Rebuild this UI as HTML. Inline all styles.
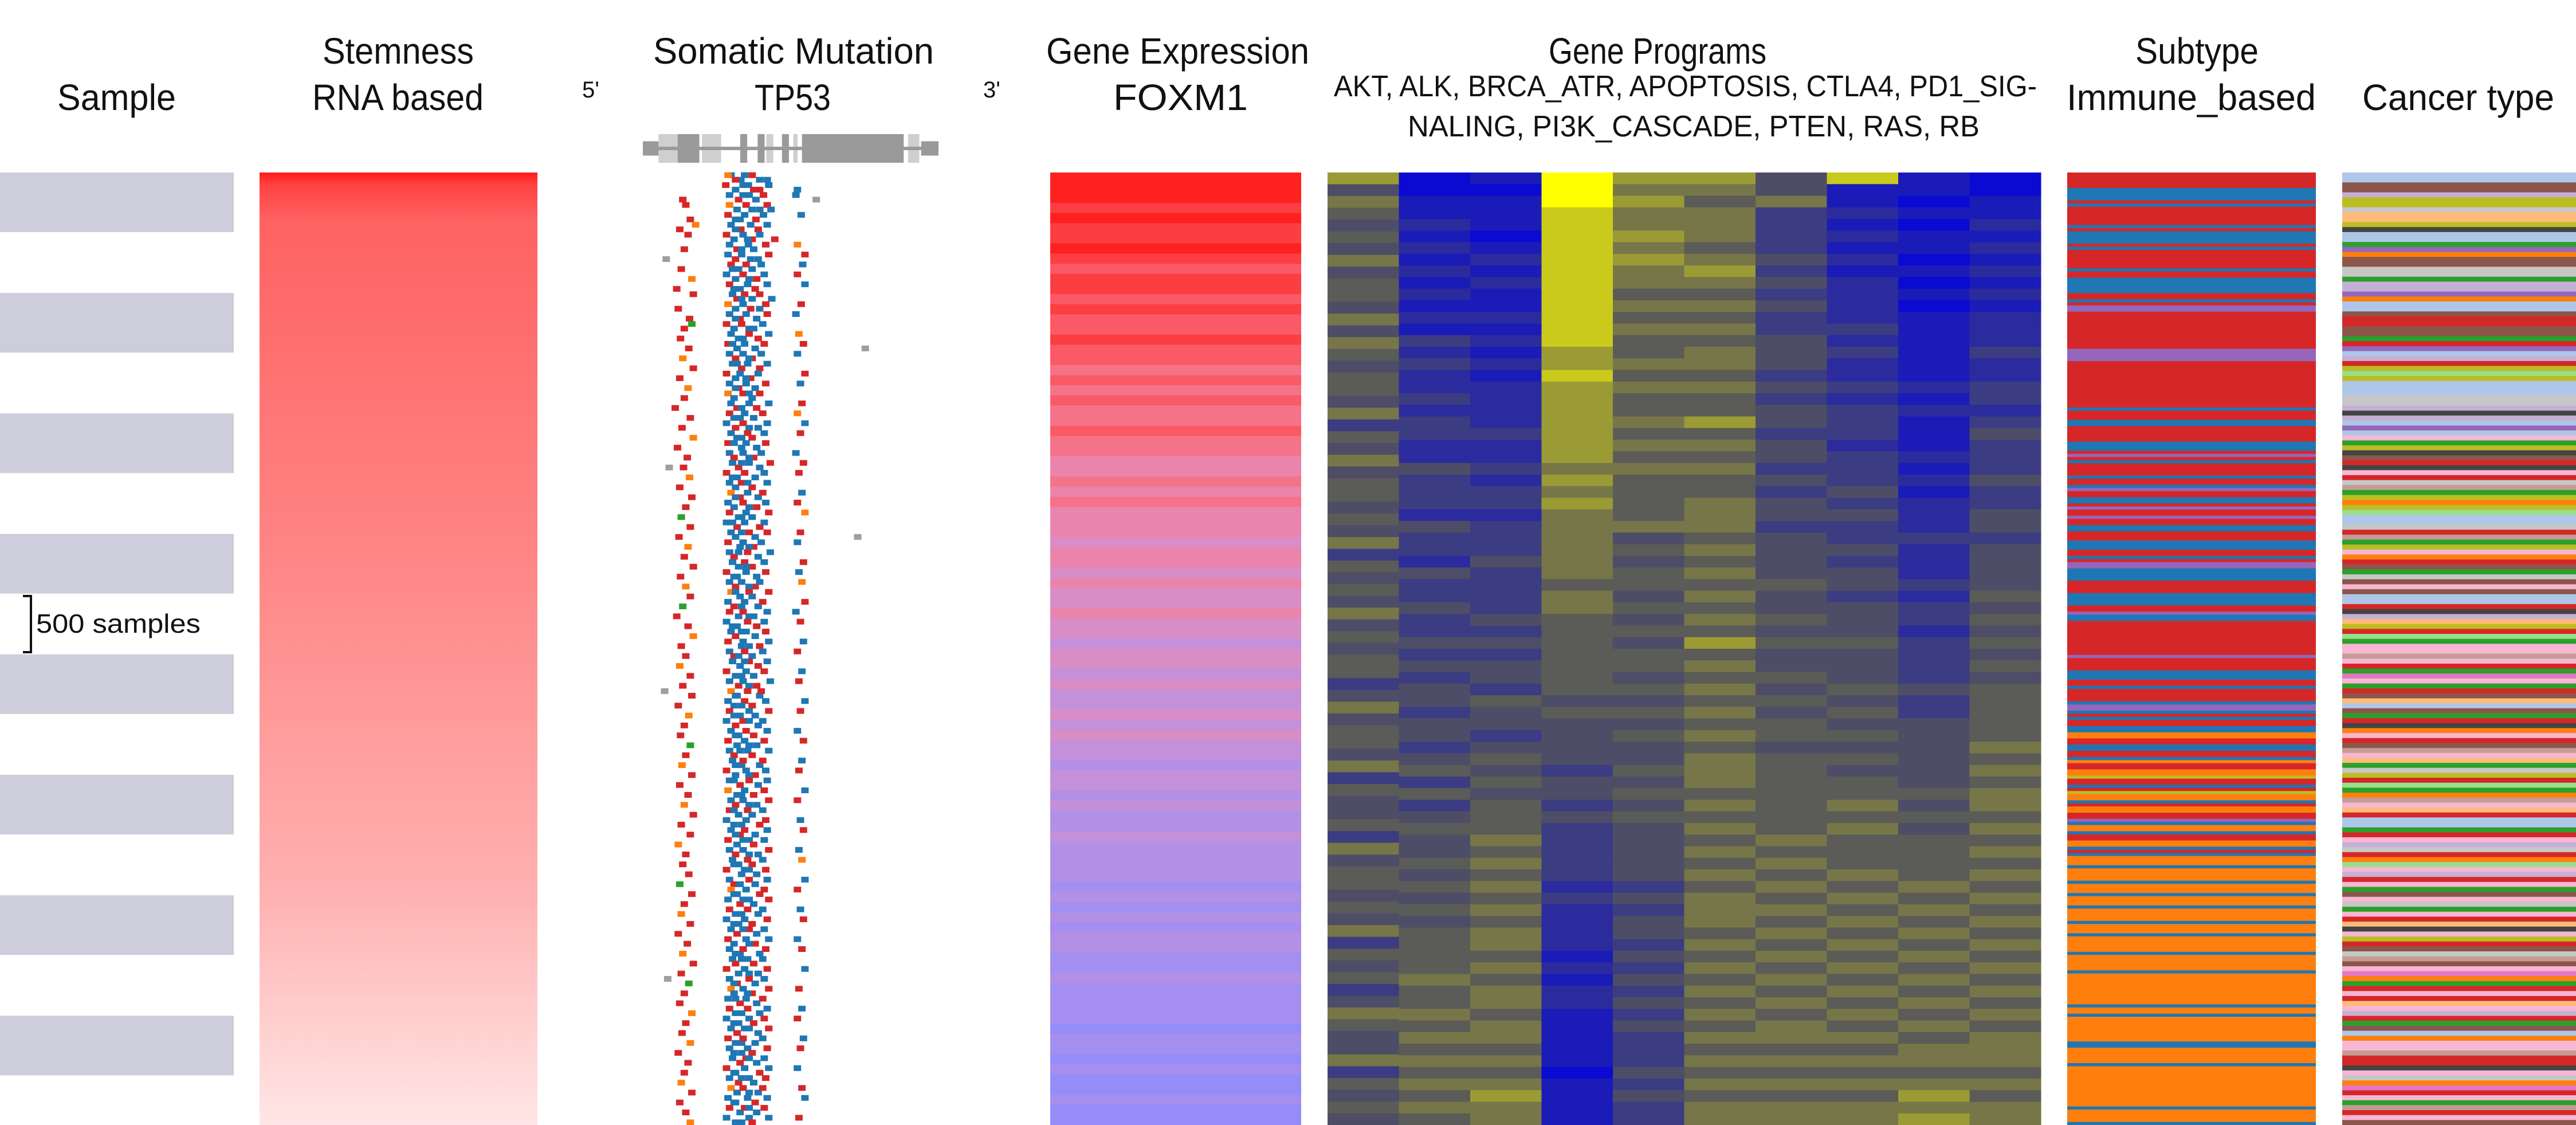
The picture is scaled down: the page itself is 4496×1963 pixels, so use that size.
<!DOCTYPE html>
<html><head><meta charset="utf-8"><style>
html,body{margin:0;padding:0;background:#fff;}
svg{display:block;}
text{font-family:"Liberation Sans",sans-serif;fill:#111;}
</style></head><body>
<svg id="chart" width="4496" height="1963" viewBox="0 0 4496 1963" xmlns="http://www.w3.org/2000/svg">
<defs>
<linearGradient id="stemGrad" x1="0" y1="0" x2="0" y2="1">
<stop offset="0" stop-color="#ff1a1a"/><stop offset="0.012" stop-color="#ff4040"/><stop offset="0.05" stop-color="#ff6262"/><stop offset="0.4" stop-color="#ff8585"/><stop offset="0.75" stop-color="#ffb0b0"/><stop offset="1" stop-color="#ffe6e6"/>
</linearGradient>
</defs>
<g>
<text x="100" y="192" font-size="64" textLength="207" lengthAdjust="spacingAndGlyphs">Sample</text>
<text x="563" y="111" font-size="64" textLength="264" lengthAdjust="spacingAndGlyphs">Stemness</text>
<text x="545" y="192" font-size="64" textLength="299" lengthAdjust="spacingAndGlyphs">RNA based</text>
<text x="1016" y="170" font-size="40">5'</text>
<text x="1140" y="111" font-size="64" textLength="490" lengthAdjust="spacingAndGlyphs">Somatic Mutation</text>
<text x="1317" y="192" font-size="64" textLength="133" lengthAdjust="spacingAndGlyphs">TP53</text>
<text x="1716" y="170" font-size="40">3'</text>
<text x="1826" y="111" font-size="64" textLength="459" lengthAdjust="spacingAndGlyphs">Gene Expression</text>
<text x="1943" y="192" font-size="64" textLength="235" lengthAdjust="spacingAndGlyphs">FOXM1</text>
<text x="2703" y="111" font-size="64" textLength="380" lengthAdjust="spacingAndGlyphs">Gene Programs</text>
<text x="2328" y="168" font-size="52" textLength="1227" lengthAdjust="spacingAndGlyphs">AKT, ALK, BRCA_ATR, APOPTOSIS, CTLA4, PD1_SIG-</text>
<text x="2457" y="238" font-size="52" textLength="998" lengthAdjust="spacingAndGlyphs">NALING, PI3K_CASCADE, PTEN, RAS, RB</text>
<text x="3727" y="111" font-size="64" textLength="215" lengthAdjust="spacingAndGlyphs">Subtype</text>
<text x="3607" y="192" font-size="64" textLength="435" lengthAdjust="spacingAndGlyphs">Immune_based</text>
<text x="4123" y="192" font-size="64" textLength="335" lengthAdjust="spacingAndGlyphs">Cancer type</text>
</g>
<g id="sampleTrack"></g>
<g>
<path d="M40 1040 H54 V1138 H40" fill="none" stroke="#111" stroke-width="4"/>
<text x="63" y="1104" font-size="46" textLength="287" lengthAdjust="spacingAndGlyphs">500 samples</text>
</g>
<rect x="453" y="301" width="485" height="1662" fill="url(#stemGrad)"/>
<g id="geneDiagram"></g>
<g id="mutTrack"></g>
<g id="foxTrack"></g>
<g id="progTrack"></g>
<g id="subTrack"></g>
<g id="cancerTrack"></g>
</svg>
<script>
// ---- data ----
const sampleBlocks = [0,1,2,3,4,5,6,7];
const geneExons = [[0,18,"#9a9a9a",0.5],[18,40,"#cfcfcf",1],[40,65,"#9a9a9a",1],[68,90,"#cfcfcf",1],[112,120,"#9a9a9a",1],[132,140,"#9a9a9a",1],[142,150,"#cfcfcf",1],[160,168,"#9a9a9a",1],[173,178,"#cfcfcf",1],[183,300,"#9a9a9a",1],[305,318,"#cfcfcf",1],[320,340,"#9a9a9a",0.5]];
const codonMax = 340;
const mutRows = [
"b112 b125 r140 b150 o108 b160 b130 r118",
"r105 b118 b135 r150 b162 b200 b128 r142",
"b110 r122 b128 b145 r155 r48 b198 x225 b136",
"o110 b120 r132 b140 r160 b165 r52 b150",
"r108 b118 b130 r145 b155 r58 b205 b124",
"b112 r125 b138 r148 b160 r44 o65 b118",
"r106 b116 b128 r140 b150 r170 r55 b134",
"b110 r120 b135 b142 r158 r50 o200 b126",
"b108 r118 b126 b148 r162 x26 r210 b138",
"r112 b122 r132 b140 b152 r46 b207 b114",
"b106 b118 r128 r146 b156 o60 r200 b136",
"r110 b124 b134 r144 b160 r40 b210 b116",
"b114 r120 r130 b140 r150 b166 r62 b126",
"o108 b118 b128 r138 r158 r42 r205 b150",
"b110 r124 b132 b146 r160 r57 b198 b118",
"r106 b116 r126 b142 b154 r50 g60 b136",
"b112 b122 r136 r148 b162 r45 o202 b128",
"r108 b120 b130 b144 r156 r56 r208 x290 b114",
"b110 r118 b128 r140 b152 o48 b200 b136",
"b114 r126 b134 r150 b160 r62 b120",
"r106 b118 b124 r138 b148 r44 r210 b132",
"b110 r122 b132 b144 r158 o55 b204 b118",
"o108 b116 r128 b140 r150 r50 b136",
"b112 r120 b136 r146 b162 r38 r206 b126",
"r110 b124 b130 b142 r154 r58 o200 b116",
"b106 r118 r128 b148 b160 r47 b210 b136",
"b112 b120 r134 r140 b156 o62 r204 b126",
"r108 b126 b132 b146 r158 r41 b116",
"b110 r116 b128 r142 b152 r54 b198 b136",
"b114 r122 b136 b150 r164 r49 r208 x30 b126",
"r106 b120 r130 b144 b156 o57 r202 b114",
"b110 b118 r126 r140 b160 r44 b134",
"o112 r124 b134 b148 r154 r60 b206 b118",
"b108 b116 r128 r146 b158 r52 r200 b136",
"r110 b122 b132 b140 r162 g46 o210 b126",
"b106 r120 b130 r150 b156 r58 b114",
"b112 b118 r136 b144 r160 r43 r204 x280 b126",
"r108 b124 b128 r142 b152 o55 b200 b136",
"b110 r116 r134 b148 b164 r50 b122",
"b114 b122 r130 r140 b156 r62 r208 b132",
"r106 b120 b132 b146 r158 r45 b202 b116",
"b110 r118 b126 r144 b150 o52 o206 b136",
"o112 b124 r136 b140 r162 r58 b118",
"b108 r116 b130 b148 r154 g48 r210 b126",
"r110 b122 r128 b142 b160 r40 b198 b136",
"b106 b120 r134 r146 b156 r55 r204 b114",
"b112 r118 b132 b144 r158 o62 b126",
"r108 b126 b128 r150 b162 r46 b208 b136",
"b110 r116 r130 b140 b154 r52 r200 b122",
"b114 b124 r136 r148 b160 o44 b130",
"r106 b118 b132 b142 r156 r58 b206 b126",
"b110 r122 b128 r146 b164 r48 r202 b136",
"o112 b120 r134 b150 r152 r60 x24 b118",
"b108 b116 r130 r140 b158 r42 b210 b126",
"r110 b124 b136 b144 r162 o56 r204 b116",
"b106 r118 r128 b148 b154 r50 b136",
"b112 b122 r132 r142 b160 r45 b200 b118",
"r108 b120 b130 b146 r156 g58 r208 b136",
"b110 r116 b134 r140 b162 r52 b124",
"b114 b126 r128 b150 r154 o47 b206 b118",
"r106 b118 b132 r144 b158 r60 r202 b136",
"b110 r124 r136 b148 b160 r44 b116",
"o108 b120 b130 r142 r156 r55 b210 b126",
"b112 r118 b128 b146 r162 o50 r200 b136",
"r110 b122 r134 b140 b154 r62 b116",
"b106 b116 b132 r150 r158 r46 b204 b126",
"b112 r124 r130 b144 b160 r58 r208 b118",
"r108 b120 b136 r142 b156 o42 b128",
"b110 r118 b128 b148 r162 r52 b202 b136",
"b114 b122 r134 r140 b154 r48 o206 b116",
"r106 b126 b130 b146 r158 r56 b136",
"b110 r116 r136 b144 b160 g44 b210 b124",
"o112 b120 b132 r150 r156 r60 r200 b116",
"b108 r124 b128 b142 r162 r50 b136",
"r110 b118 r134 b148 b154 o46 b204 b126",
"b106 b122 b130 r140 r160 r58 r208 b116",
"b112 r120 r136 b146 b156 r42 b128",
"r108 b116 b132 r144 b162 r54 b200 b136",
"b110 b124 r128 b150 r158 o48 r206 b118",
"b114 r118 b134 r142 b154 r62 b126",
"r106 b122 b130 b148 r160 r46 b210 b136",
"b110 r120 r136 b144 b156 g56 x28 b116",
"o112 b116 b128 r140 r162 r50 r202 b134",
"b108 r124 b132 b146 r154 r44 b118",
"r110 b118 r134 b150 b160 o60 b206 b126",
"b106 b122 b136 r142 r156 r52 r200 b116",
"b112 r120 b130 b148 r162 r47 b136",
"r108 b126 r128 b144 b154 o58 b208 b118",
"b110 b116 b134 r140 r160 r42 r204 b126",
"b114 r124 r132 b146 b156 r55 b136",
"r106 b118 b130 r150 b162 r50 b200 b116",
"b110 r122 b136 b142 r158 o46 b126",
"o112 b120 r128 b148 r154 r60 r206 b136",
"b108 b116 b134 r144 b160 r44 b210 b118",
"r110 b124 r130 b146 r156 r52 b136",
"b106 b118 b136 r140 b162 o58 r202 b126"
];
const foxVals = "0001011012112122122323233233443434445445455455655656656566766767767777878787788788889889899899";
const progNames = ["AKT","ALK","BRCA_ATR","APOPTOSIS","CTLA4","PD1_SIGNALING","PI3K_CASCADE","PTEN","RAS","RB"];
const progCol0 = "746545464554646545546354645545463545464545534645546354453645545463545346544635454";
const progCol1 = "0011212121212132322323322433324332433433434344344345353454454545455556556565656565";
const progCol2 = "1011101212112121212222322323323334333343434435443454545556565656566565665665656766";
const progCol3 = "9998888888888887787777777676766666656655555554544443443433333232222121221111101111";
const progCol4 = "7676676766565655656556565655556454554545455454545445454544444343443434343433343433";
const progCol5 = "7656665676565656656557565655666565656565756565656566656565656566656565656565656566";
const progCol6 = "4463333434343344434344344343443444454454544545455455555556565656565656565665656566";
const progCol7 = "8112121212222323223233323334343343443444544454545454556565556565656565656565656566";
const progCol8 = "1101011010101111112121112121222322232332333343344444454545555656565656565656656767";
const progCol9 = "0011212121212223223323433343344344445454545455555656566565656565656565656566656566";
const subtypeCodes = "RRRRRBBBBRBRRRRRRBRBBBBRBRRRRRRBRRBBBBBRRBRPPRRRRRRRRRRRRPPPPRRRRRRRRRRRRRRRBRRRBBRRRRRBBBRPRBRRRRBRRBPRRBBRPRRPRRBBRRRBBBRRBRPPBBBBRRRRBBBBRRPBBRRRRRRRRRRRPRRRRBBBRRBRRRRBPPBRBRRBBOORRBBRRBORROOYRRBRYOOBROORRPBOOBRROOBRBOOOBOOOOBOOOBOOOBOOOOBOOOBOOOOOBOOOOOBOOOOOOOOOOBOOBOOOOOOOOBBOOOOOBOOOOOOOOOOOOOBOOOOB";
const cancerCodes = "aabbcddeffdgaahijbbeehccijaabkkbbhkiackdldaaaeecgcaiamhdgbkgmkenhdjdlaaeknhdmjkbhebmbaakgcfdklhmmnmkhpmhkbfabhkgjmkbnmfhedklhjnmfkaahkmcekjlmckmhbmehmkfgmdkbenbmpjhkmkfmckhbajmmnkkgmejpkmhnkmb";

// ---- palettes ----
const subtypeColor = {R:"#d62728",B:"#1f77b4",O:"#ff7f0e",P:"#9467bd",Y:"#bcbd22"};
const cancerColor = {a:"#aec7e8",b:"#8c564b",c:"#c5b0d5",d:"#bcbd22",e:"#c7c7c7",f:"#ffbb78",g:"#444444",h:"#2ca02c",i:"#9467bd",j:"#ff7f0e",k:"#d62728",l:"#98df8a",m:"#f7b6d2",n:"#c49c94",o:"#1f77b4",p:"#e377c2"};
const mutColor = {b:"#1f77b4",r:"#d62728",o:"#ff7f0e",g:"#2ca02c",x:"#9e9e9e"};

const NS = "http://www.w3.org/2000/svg";
const TOP = 301, BOT = 1963;
function rect(parent, x, y, w, h, fill) {
  const r = document.createElementNS(NS, "rect");
  r.setAttribute("x", x); r.setAttribute("y", y);
  r.setAttribute("width", w); r.setAttribute("height", h);
  r.setAttribute("fill", fill);
  parent.appendChild(r);
  return r;
}
function rowScale(i, n) { return TOP + (BOT - TOP) * i / n; }

// sample blocks
const sg = document.getElementById("sampleTrack");
sampleBlocks.forEach(i => {
  const r = rect(sg, 0, 301 + i * 210.2, 408, 104, "#cdcddb");
  
  
});

// gene diagram
const gd = document.getElementById("geneDiagram");
const gx = c => 1122 + (1638 - 1122) * c / codonMax;
geneExons.forEach(e => {
  const h = 50 * e[3];
  const r = rect(gd, gx(e[0]), 259 - h / 2, gx(e[1]) - gx(e[0]), h, e[2]);
  
  
});
rect(gd, gx(0), 256, gx(codonMax) - gx(0), 6, "#9a9a9a");

// mutations
const mg = document.getElementById("mutTrack");
const codonX = c => 1122 + c * ((1405 - 1122) / 215);
mutRows.forEach((row, i) => {
  const yc = rowScale(i + 0.5, mutRows.length);
  row.split(" ").forEach((tok, k) => {
    const t = tok[0], c = +tok.slice(1);
    const y = yc - 9 + (k % 2) * 8;
    const r = rect(mg, codonX(c), y, 13, 10, mutColor[t]);
    
    
  });
});

// FOXM1
const fg = document.getElementById("foxTrack");
const foxStops = [[0,[255,32,32]],[0.3,[248,110,125]],[0.5,[228,140,190]],[0.72,[185,145,225]],[1,[150,140,248]]];
function foxColor(t) {
  for (let k = 1; k < foxStops.length; k++) {
    if (t <= foxStops[k][0]) {
      const a = foxStops[k-1], b = foxStops[k], u = (t - a[0]) / (b[0] - a[0]);
      const c = a[1].map((v, j) => Math.round(v + (b[1][j] - v) * u));
      return "rgb(" + c.join(",") + ")";
    }
  }
  return "rgb(150,140,248)";
}
for (let i = 0; i < foxVals.length; i++) {
  const y0 = rowScale(i, foxVals.length), y1 = rowScale(i + 1, foxVals.length);
  const r = rect(fg, 1833, y0, 438, y1 - y0 + 0.5, foxColor(+foxVals[i] / 9));
  
  
}

// gene programs heatmap
const pg = document.getElementById("progTrack");
const progCols = [progCol0,progCol1,progCol2,progCol3,progCol4,progCol5,progCol6,progCol7,progCol8,progCol9];
function progColor(v) {
  const t = v / 9;
  let c;
  if (t < 0.5) { const u = t / 0.5; c = [Math.round(10 + 75*u), Math.round(10 + 75*u), Math.round(210 - 120*u)]; }
  else { const u = Math.pow((t - 0.5) / 0.5, 1.5); c = [Math.round(85 + 170*u), Math.round(85 + 170*u), Math.round(90 - 90*u)]; }
  return "rgb(" + c.join(",") + ")";
}
const colW = (3562 - 2317) / progCols.length;
progCols.forEach((col, ci) => {
  for (let i = 0; i < col.length; i++) {
    const y0 = rowScale(i, col.length), y1 = rowScale(i + 1, col.length);
    const r = rect(pg, 2317 + ci * colW, y0, colW + 0.5, y1 - y0 + 0.5, progColor(+col[i]));
    
    
  }
});

// subtype
const stg = document.getElementById("subTrack");
for (let i = 0; i < subtypeCodes.length; i++) {
  const y0 = rowScale(i, subtypeCodes.length), y1 = rowScale(i + 1, subtypeCodes.length);
  const r = rect(stg, 3608, y0, 434, y1 - y0 + 0.5, subtypeColor[subtypeCodes[i]]);
  
  
}

// cancer type
const cg = document.getElementById("cancerTrack");
for (let i = 0; i < cancerCodes.length; i++) {
  const y0 = rowScale(i, cancerCodes.length), y1 = rowScale(i + 1, cancerCodes.length);
  const r = rect(cg, 4088, y0, 408, y1 - y0 + 0.5, cancerColor[cancerCodes[i]]);
  
  
}
</script>
</body></html>
